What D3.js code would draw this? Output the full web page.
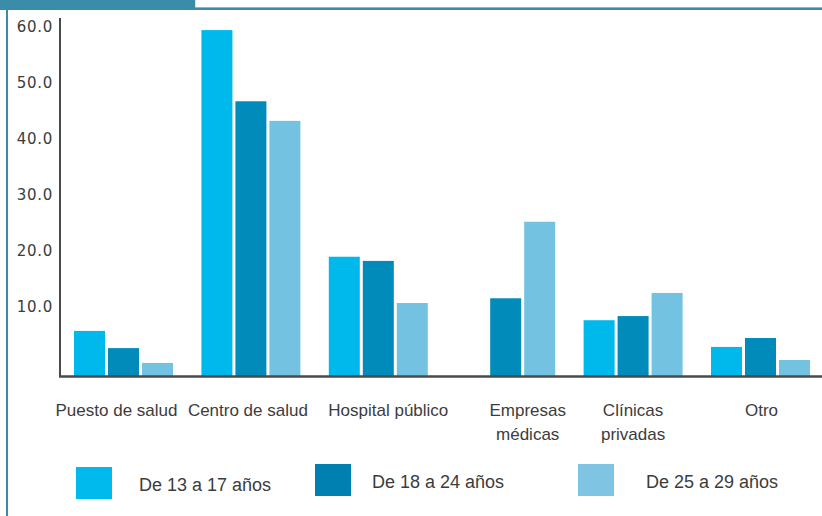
<!DOCTYPE html>
<html>
<head>
<meta charset="utf-8">
<script src="https://cdn.jsdelivr.net/npm/d3@7"></script>
<style>
  html, body { margin: 0; padding: 0; background: #ffffff; }
  svg { display: block; }
</style>
</head>
<body>
<svg id="chart" width="822" height="516"></svg>
<script>
// ---- data ----
const categories = ["Puesto de salud", "Centro de salud", "Hospital público", "Empresas médicas", "Clínicas privadas", "Otro"];
const categoryLabels = [["Puesto de salud"], ["Centro de salud"], ["Hospital público"], ["Empresas", "médicas"], ["Clínicas", "privadas"], ["Otro"]];
const seriesNames = ["De 13 a 17 años", "De 18 a 24 años", "De 25 a 29 años"];
const values1317 = [7.6, 58.3, 20.1, 0, 9.4, 4.9];
const values1824 = [4.7, 46.3, 19.4, 13.1, 10.1, 6.4];
const values2529 = [2.2, 43.0, 12.3, 26.0, 14.0, 2.7];
const tickValues = [10, 20, 30, 40, 50, 60];

// ---- styles / layout ----
const colors = ["#00b9ec", "#008bba", "#74c2e1"];
const legendColors = ["#00baee", "#0080b1", "#7fc4e2"];
const teal = "#3a8ca8";
const textColor = "#3c3c3c";
const labelShift = [-7, -3, 10, 22, 0, 1];

const seriesValues = [values1317, values1824, values2529];
const svg = d3.select("#chart");

// ---- frame / header ----
svg.append("rect").attr("x", 195).attr("y", -1).attr("width", 640).attr("height", 9)
  .attr("fill", "#ffffff").attr("stroke", "#a9c9d6").attr("stroke-width", 1);
svg.append("rect").attr("x", 0).attr("y", 0).attr("width", 195).attr("height", 9).attr("fill", teal);
svg.append("rect").attr("x", 0).attr("y", 7.5).attr("width", 822).attr("height", 2.5).attr("fill", teal);
svg.append("rect").attr("x", 6).attr("y", 8).attr("width", 2).attr("height", 508).attr("fill", teal);

// ---- scales ----
const x0 = d3.scaleBand().domain(categories).range([60, 824]).paddingInner(0.223).paddingOuter(0.11);
const x1 = d3.scaleBand().domain(seriesNames).range([0, x0.bandwidth()]).paddingInner(0.088).paddingOuter(0);
const y = d3.scaleLinear().domain([0, 60]).range([376, 20]);
// tick labels are placed on their own scale, as in the reference
const yLabel = d3.scaleLinear().domain([10, 60]).range([307, 27]);

// ---- bars ----
const groups = svg.append("g").selectAll("g").data(categories).join("g")
  .attr("transform", d => `translate(${x0(d)},0)`);
groups.selectAll("rect")
  .data((c, ci) => seriesNames.map((s, si) => ({ s, si, v: seriesValues[si][ci] })))
  .join("rect")
  .attr("x", d => x1(d.s))
  .attr("width", x1.bandwidth())
  .attr("y", d => y(d.v))
  .attr("height", d => y(0) - y(d.v))
  .attr("fill", d => colors[d.si]);

// ---- axes ----
svg.append("line").attr("x1", 60).attr("x2", 60).attr("y1", y(60) - 2).attr("y2", y(0) + 1)
  .attr("stroke", "#4a4a4a").attr("stroke-width", 2);
svg.append("line").attr("x1", 59).attr("x2", 822).attr("y1", y(0) + 0.5).attr("y2", y(0) + 0.5)
  .attr("stroke", "#4a4a4a").attr("stroke-width", 2.5);

const yAxis = svg.append("g").attr("transform", "translate(53,0)")
  .call(d3.axisLeft(yLabel).tickValues(tickValues).tickSize(0).tickPadding(0).tickFormat(d3.format(".1f")));
yAxis.select(".domain").remove();
yAxis.selectAll("text")
  .attr("fill", textColor)
  .style("font-family", "'DejaVu Sans', sans-serif")
  .style("font-size", "15px")
  .style("letter-spacing", "0.7px");

// category labels
const catG = svg.append("g");
categories.forEach((c, i) => {
  const cx = x0(c) + x0.bandwidth() / 2 + labelShift[i];
  const t = catG.append("text")
    .attr("x", cx)
    .attr("y", 416)
    .attr("text-anchor", "middle")
    .attr("fill", textColor)
    .style("font-family", "'Liberation Sans', Arial, sans-serif")
    .style("font-size", "17px");
  categoryLabels[i].forEach((line, li) => {
    t.append("tspan").attr("x", cx).attr("dy", li === 0 ? 0 : 24).text(line);
  });
});

// ---- legend ----
const legendLayout = [
  { sx: 76, sy: 467, tx: 139, ty: 491 },
  { sx: 315, sy: 464, tx: 372, ty: 488 },
  { sx: 578, sy: 464, tx: 646, ty: 488 }
];
const leg = svg.append("g").selectAll("g").data(seriesNames).join("g");
leg.append("rect")
  .attr("x", (d, i) => legendLayout[i].sx)
  .attr("y", (d, i) => legendLayout[i].sy)
  .attr("width", 36).attr("height", 32)
  .attr("fill", (d, i) => legendColors[i]);
leg.append("text")
  .attr("x", (d, i) => legendLayout[i].tx)
  .attr("y", (d, i) => legendLayout[i].ty)
  .attr("fill", textColor)
  .style("font-family", "'Liberation Sans', Arial, sans-serif")
  .style("font-size", "18px")
  .text(d => d);
</script>
</body>
</html>
